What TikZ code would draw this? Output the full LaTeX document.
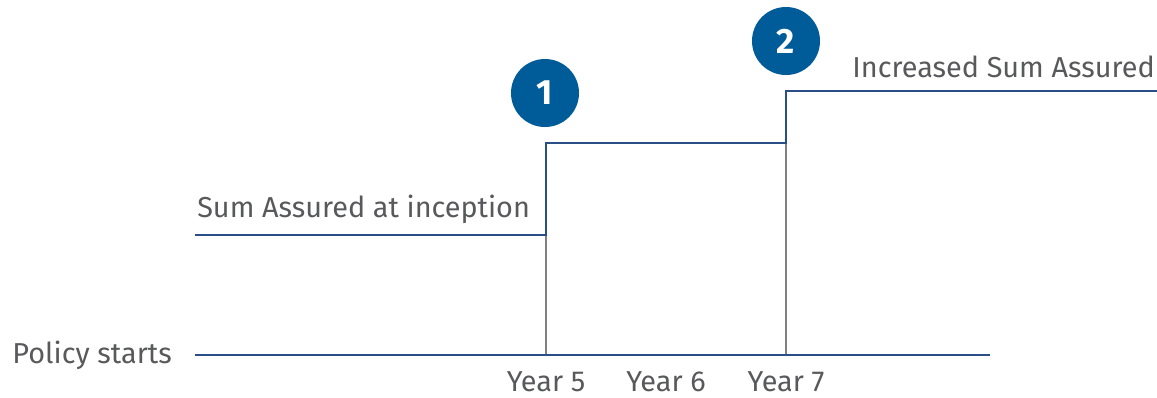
\documentclass[tikz,border=0pt]{standalone}
\usepackage{fontspec}
\setmainfont{Fira Sans}
\usepackage{xcolor}
\definecolor{lineblue}{HTML}{2A4F86}
\definecolor{badgeblue}{HTML}{005B99}
\definecolor{textgray}{HTML}{58595B}
\definecolor{tickgray}{HTML}{808080}

\begin{document}
\begin{tikzpicture}[x=0.025cm, y=-0.025cm, label/.style={text=textgray, inner sep=0pt, font=\fontsize{20.5}{24}\selectfont}, badge/.style={circle, fill=badgeblue, text=white, minimum size=1.7cm, inner sep=0pt, font=\bfseries\fontsize{25}{30}\selectfont}, stepline/.style={draw=lineblue, line width=2.1pt}, tick/.style={draw=tickgray, line width=1.4pt}]
    \useasboundingbox (0,0) rectangle (1157,397);

    \coordinate (s0) at (195,235);
    \coordinate (s1) at (546,235);
    \coordinate (s2) at (546,143);
    \coordinate (s3) at (786,143);
    \coordinate (s4) at (786,91);
    \coordinate (s5) at (1157,91);
    \coordinate (a0) at (195,355);
    \coordinate (a1) at (990,355);
    \coordinate (t5) at (546,355);
    \coordinate (t7) at (786,355);

    \draw[tick] (t5) -- (s1);
    \draw[tick] (t7) -- (s3);
    \draw[stepline] (a0) -- (a1);
    \draw[stepline] (s0) -- (s1) -- (s2) -- (s3) -- (s4) -- (s5);

    \node[badge] (b1) at (545,93) {1};
    \node[badge] (b2) at (786,41) {2};

    \node[label, anchor=east] (start) at (172,355) {Policy starts};
    \node[label, anchor=base west] (base) at (197,217) {Sum Assured at inception};
    \node[label, anchor=base east] (incr) at (1155,77) {Increased Sum Assured};
    \node[label, anchor=base] (y5) at (546,391) {Year 5};
    \node[label, anchor=base] (y6) at (666,391) {Year 6};
    \node[label, anchor=base] (y7) at (786,391) {Year 7};
\end{tikzpicture}
\end{document}
